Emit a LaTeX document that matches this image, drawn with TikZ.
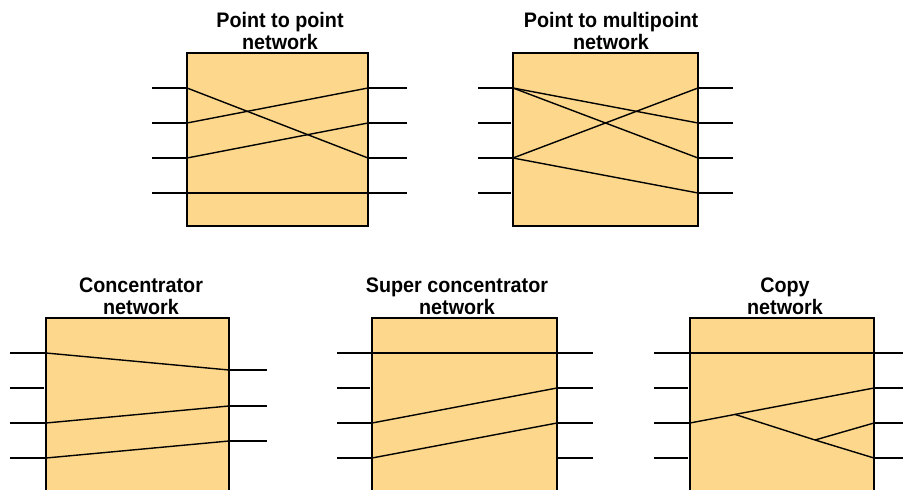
\documentclass[tikz,border=0pt]{standalone}
\usepackage{fontspec}
\setmainfont{Liberation Sans}[FakeStretch=0.94]
\definecolor{boxfill}{RGB}{253,216,140}
\begin{document}
\begin{tikzpicture}[x=1pt,y=-1pt,
  netbox/.style={draw=black,fill=boxfill,line width=1.4pt,inner sep=0pt,outer sep=0pt,anchor=north west},
  wire/.style={line width=1.4pt,black},
  free/.style={wire,shorten >=2pt},
  title/.style={anchor=base,inner sep=0pt,font=\fontsize{21}{21}\selectfont\bfseries}]
\useasboundingbox (0,0) rectangle (903,490);
\clip (0,0) rectangle (903,490);

% ---------- boxes ----------
\node[netbox,minimum width=181pt,minimum height=173pt] (A) at (187,53) {};
\node[netbox,minimum width=185pt,minimum height=173pt] (B) at (513,53) {};
\node[netbox,minimum width=183pt,minimum height=190pt] (C) at (46,318) {};
\node[netbox,minimum width=185pt,minimum height=190pt] (D) at (372,318) {};
\node[netbox,minimum width=184pt,minimum height=190pt] (E) at (690,318) {};

% ---------- titles ----------
\node[title] (tA1) at (280,27) {Point to point};
\node[title] (tA2) at (280,49) {network};
\node[title] (tB1) at (611,27) {Point to multipoint};
\node[title] (tB2) at (611,49) {network};
\node[title] (tC1) at (141,292) {Concentrator};
\node[title] (tC2) at (141,314) {network};
\node[title] (tD1) at (457,292) {Super concentrator};
\node[title] (tD2) at (457,314) {network};
\node[title] (tE1) at (785,292) {Copy};
\node[title] (tE2) at (785,314) {network};

% ---------- ports ----------
\foreach \i/\y in {1/88,2/123,3/158,4/193} {
  \coordinate (Ao\i) at (152,\y); \coordinate (Al\i) at (187,\y);
  \coordinate (Ar\i) at (368,\y); \coordinate (Ae\i) at (407,\y);
  \coordinate (Bo\i) at (478,\y); \coordinate (Bl\i) at (513,\y);
  \coordinate (Br\i) at (698,\y); \coordinate (Be\i) at (733,\y);
}
\foreach \i/\y in {1/353,2/388,3/423,4/458} {
  \coordinate (Co\i) at (10,\y);  \coordinate (Cl\i) at (46,\y);
  \coordinate (Do\i) at (337,\y); \coordinate (Dl\i) at (372,\y);
  \coordinate (Dr\i) at (557,\y); \coordinate (De\i) at (593,\y);
  \coordinate (Eo\i) at (654,\y); \coordinate (El\i) at (690,\y);
  \coordinate (Er\i) at (874,\y); \coordinate (Ee\i) at (905,\y);
}
\foreach \i/\y in {1/370,2/406,3/441} {
  \coordinate (Cr\i) at (229,\y); \coordinate (Ce\i) at (267,\y);
}
\coordinate (Eb1) at (735,414.4);
\coordinate (Eb2) at (815,440);

% ---------- internal connections ----------
\draw[wire] (Al1) -- (Ar3);
\draw[wire] (Al2) -- (Ar1);
\draw[wire] (Al3) -- (Ar2);
\draw[wire] (Al4) -- (Ar4);

\draw[wire] (Bl1) -- (Br2);
\draw[wire] (Bl1) -- (Br3);
\draw[wire] (Bl3) -- (Br1);
\draw[wire] (Bl3) -- (Br4);

\draw[wire] (Cl1) -- (Cr1);
\draw[wire] (Cl3) -- (Cr2);
\draw[wire] (Cl4) -- (Cr3);

\draw[wire] (Dl1) -- (Dr1);
\draw[wire] (Dl3) -- (Dr2);
\draw[wire] (Dl4) -- (Dr3);

\draw[wire] (El1) -- (Er1);
\draw[wire] (El3) -- (Er2);
\draw[wire] (Eb1) -- (Eb2) -- (Er4);
\draw[wire] (Eb2) -- (Er3);

% ---------- external stubs ----------
\foreach \i in {1,...,4} {
  \draw[wire] (Ao\i) -- (Al\i);
  \draw[wire] (Ar\i) -- (Ae\i);
  \draw[wire] (Br\i) -- (Be\i);
  \draw[wire] (Dr\i) -- (De\i);
  \draw[wire] (Er\i) -- (Ee\i);
}
\foreach \i in {1,3} {
  \draw[wire] (Bo\i) -- (Bl\i);
  \draw[wire] (Co\i) -- (Cl\i);
  \draw[wire] (Do\i) -- (Dl\i);
  \draw[wire] (Eo\i) -- (El\i);
}
\draw[wire] (Co4) -- (Cl4);
\draw[wire] (Do4) -- (Dl4);
\foreach \i in {2,4} {
  \draw[free] (Bo\i) -- (Bl\i);
  \draw[free] (Eo\i) -- (El\i);
}
\draw[free] (Co2) -- (Cl2);
\draw[free] (Do2) -- (Dl2);
\foreach \i in {1,2,3} {
  \draw[wire] (Cr\i) -- (Ce\i);
}
\end{tikzpicture}
\end{document}
